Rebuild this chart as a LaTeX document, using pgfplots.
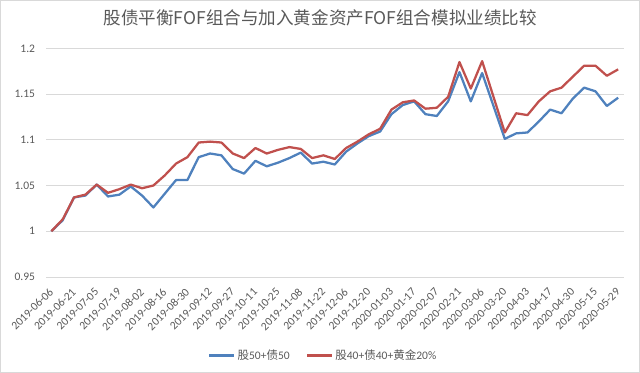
\documentclass[border=0pt]{standalone}
\usepackage{fontspec}
\setmainfont{Carlito}
\newfontfamily\cjk{Noto Sans CJK SC}
\usepackage{pgfplots}
\usepackage{pgfplotstable}
\pgfplotsset{compat=1.18}
\definecolor{txt}{RGB}{89,89,89}
\definecolor{gridc}{RGB}{217,217,217}
\definecolor{sblue}{RGB}{79,129,189}
\definecolor{sred}{RGB}{192,80,77}

\pgfplotstableread{
i blue red
0 1.000 1.000
1 1.012 1.013
2 1.037 1.037
3 1.039 1.040
4 1.051 1.051
5 1.038 1.042
6 1.040 1.046
7 1.049 1.051
8 1.039 1.047
9 1.026 1.050
10 1.041 1.061
11 1.056 1.074
12 1.056 1.081
13 1.081 1.097
14 1.085 1.098
15 1.083 1.097
16 1.068 1.085
17 1.063 1.080
18 1.077 1.091
19 1.071 1.085
20 1.075 1.089
21 1.080 1.092
22 1.086 1.090
23 1.074 1.080
24 1.076 1.083
25 1.073 1.079
26 1.087 1.091
27 1.096 1.098
28 1.104 1.106
29 1.109 1.112
30 1.128 1.133
31 1.138 1.141
32 1.142 1.143
33 1.128 1.134
34 1.126 1.135
35 1.142 1.147
36 1.174 1.185
37 1.142 1.156
38 1.173 1.186
39 1.137 1.147
40 1.101 1.108
41 1.107 1.129
42 1.108 1.127
43 1.120 1.142
44 1.133 1.153
45 1.129 1.157
46 1.145 1.169
47 1.157 1.181
48 1.153 1.181
49 1.137 1.170
50 1.146 1.177
}\datatable

\begin{document}
\begin{tikzpicture}[x=1bp,y=1bp]
\draw[gridc, line width=1bp] (2.5,2.5) rectangle (637,371.5);
\node[text=txt, font=\cjk\fontsize{17.5}{20}\selectfont] at (320,354) {股债平衡FOF组合与加入黄金资产FOF组合模拟业绩比较};
\begin{axis}[
  at={(48bp,97bp)}, anchor=south west,
  scale only axis, width=574bp, height=227bp,
  xmin=-0.445, xmax=50.55, ymin=0.95, ymax=1.2,
  axis line style={draw=none},
  major tick length=0pt,
  ymajorgrids, grid style={gridc, line width=0.8bp},
  ytick={0.95,1,1.05,1.1,1.15,1.2},
  yticklabels={0.95,1,1.05,1.1,1.15,1.2},
  yticklabel style={font=\fontsize{11.5}{13}\selectfont, text=txt, anchor=east, inner sep=0pt, xshift=-11bp},
  xtick={0,2,...,50},
  xticklabels={2019-06-06,2019-06-21,2019-07-05,2019-07-19,2019-08-02,2019-08-16,2019-08-30,2019-09-12,2019-09-27,2019-10-11,2019-10-25,2019-11-08,2019-11-22,2019-12-06,2019-12-20,2020-01-03,2020-01-17,2020-02-07,2020-02-21,2020-03-06,2020-03-20,2020-04-03,2020-04-17,2020-04-30,2020-05-15,2020-05-29},
  xticklabel style={font=\fontsize{11.5}{13}\selectfont, text=txt, rotate=45, anchor=east, inner sep=0pt},
  xticklabel shift=13bp,
  legend style={at={(0.479,-0.344)}, anchor=center, draw=none, fill=none,
    font=\fontsize{11.5}{13}\selectfont, text=txt,
    /tikz/every even column/.append style={column sep=14bp}},
  legend columns=2,
  legend image code/.code={\draw[#1, line width=2.25bp] (0bp,0bp) -- (25bp,0bp);},
  clip=false
]
\addplot[sblue, line width=2.25bp, line join=round] table[x=i, y=blue] {\datatable};
\addlegendentry{{\cjk 股}50+{\cjk 债}50}
\addplot[sred, line width=2.25bp, line join=round] table[x=i, y=red] {\datatable};
\addlegendentry{{\cjk 股}40+{\cjk 债}40+{\cjk 黄金}20\%}
\end{axis}
\end{tikzpicture}
\end{document}
